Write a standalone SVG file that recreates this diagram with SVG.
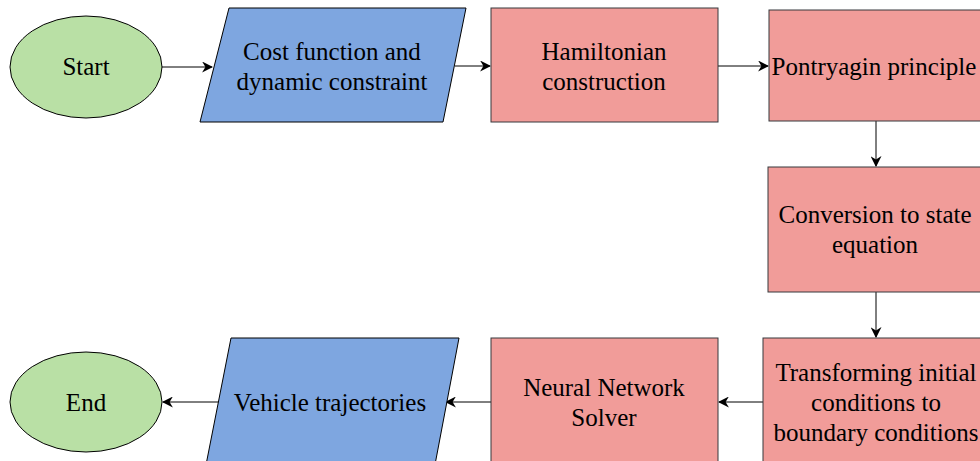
<svg xmlns="http://www.w3.org/2000/svg" width="980" height="461" viewBox="0 0 980 461">
<defs>
<marker id="ah" viewBox="0 0 10 10" refX="9" refY="5" markerWidth="11" markerHeight="11" markerUnits="userSpaceOnUse" orient="auto">
<path d="M0,0 L10,5 L0,10 L3,5 Z" fill="#000"/>
</marker>
</defs>
<style>
text{font-family:'Liberation Serif','Times New Roman',Times,serif;font-size:25px;fill:#000;text-anchor:middle}
.g{fill:#b9e0a5;stroke:#000;stroke-width:1}
.b{fill:#7ea6e0;stroke:#000;stroke-width:1}
.r{fill:#f19c99;stroke:#36393d;stroke-width:1}
.e{stroke:#000;stroke-width:1;fill:none;marker-end:url(#ah)}
</style>
<rect width="980" height="461" fill="#fff"/>
<g id="connectors">
<line class="e" x1="162" y1="67" x2="212" y2="67"/>
<line class="e" x1="455" y1="66" x2="490" y2="66"/>
<line class="e" x1="718" y1="66" x2="768" y2="66"/>
<line class="e" x1="876" y1="121" x2="876" y2="166"/>
<line class="e" x1="876" y1="292" x2="876" y2="337"/>
<line class="e" x1="763" y1="402" x2="719" y2="402"/>
<line class="e" x1="491" y1="402" x2="446" y2="402"/>
<line class="e" x1="219" y1="402" x2="163" y2="402"/>
</g>
<g id="start">
<ellipse class="g" cx="86" cy="67" rx="76" ry="51"/>
<text x="86" y="75" font-family="Liberation Serif, serif">Start</text>
</g>
<g id="cost">
<polygon class="b" points="229,8 466,8 443,122 200,122"/>
<text x="332" y="60" font-family="Liberation Serif, serif">Cost function and</text>
<text x="332" y="90" font-family="Liberation Serif, serif">dynamic constraint</text>
</g>
<g id="hamiltonian">
<rect class="r" x="491" y="8" width="227" height="114"/>
<text x="604" y="60" font-family="Liberation Serif, serif">Hamiltonian</text>
<text x="604" y="90" font-family="Liberation Serif, serif">construction</text>
</g>
<g id="pontryagin">
<rect class="r" x="769" y="10" width="212" height="111"/>
<text x="874" y="75" font-family="Liberation Serif, serif">Pontryagin principle</text>
</g>
<g id="conversion">
<rect class="r" x="768" y="167" width="213" height="125"/>
<text x="875" y="223" font-family="Liberation Serif, serif">Conversion to state</text>
<text x="875" y="253" font-family="Liberation Serif, serif">equation</text>
</g>
<g id="transforming">
<rect class="r" x="763" y="338" width="218" height="130"/>
<text x="876" y="381" font-family="Liberation Serif, serif">Transforming initial</text>
<text x="876" y="411" font-family="Liberation Serif, serif">conditions to</text>
<text x="876" y="441" font-family="Liberation Serif, serif">boundary conditions</text>
</g>
<g id="neural">
<rect class="r" x="491" y="338" width="227" height="130"/>
<text x="604" y="396" font-family="Liberation Serif, serif">Neural Network</text>
<text x="604" y="426" font-family="Liberation Serif, serif">Solver</text>
</g>
<g id="vehicle">
<polygon class="b" points="231,338 459,338 434,470 205,470"/>
<text x="330" y="411" font-family="Liberation Serif, serif">Vehicle trajectories</text>
</g>
<g id="end">
<ellipse class="g" cx="86" cy="402" rx="76" ry="50"/>
<text x="86" y="411" font-family="Liberation Serif, serif">End</text>
</g>
</svg>
